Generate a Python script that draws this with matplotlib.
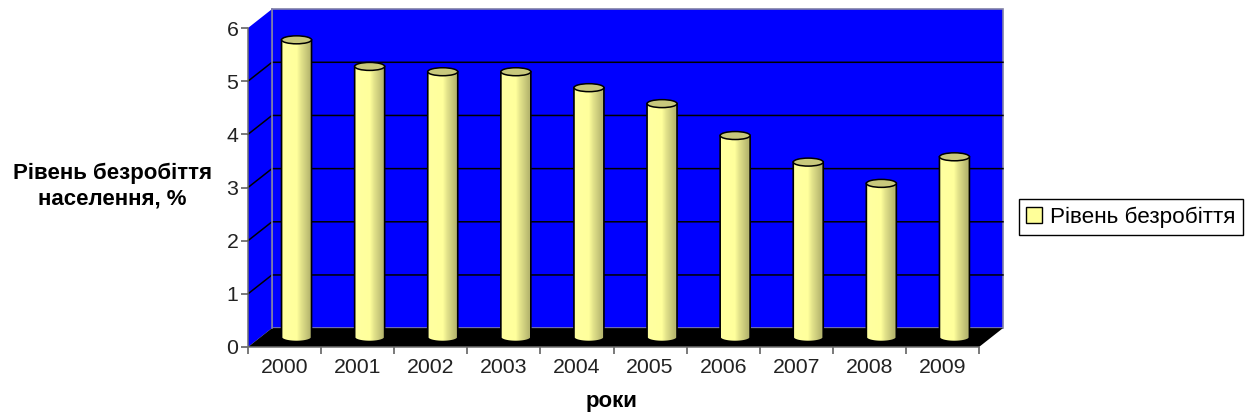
import matplotlib
matplotlib.use("Agg")
import matplotlib.pyplot as plt
import matplotlib.patches as patches
import numpy as np

years = ["2000", "2001", "2002", "2003", "2004", "2005", "2006", "2007", "2008", "2009"]
rates = [5.6, 5.1, 5.0, 5.0, 4.7, 4.4, 3.8, 3.3, 2.9, 3.4]
y_ticks = [0, 1, 2, 3, 4, 5, 6]
series_name = "Рівень безробіття"

plt.rcParams["font.family"] = ["Liberation Sans", "DejaVu Sans"]

# depth of the fake 3d box, in data units
DX = 0.328
DY = 0.355
BAR_W = 0.41
RY = 0.075

fig = plt.figure(figsize=(12.47, 4.16), dpi=100)
ax = fig.add_axes([248 / 1247, 69 / 416, 731 / 1247, 319 / 416])
ax.set_xlim(-0.5, len(years) - 0.5)
ax.set_ylim(0, 6)

x0, x1 = -0.5, len(years) - 0.5
top = y_ticks[-1]

# back wall, side wall, floor
ax.add_patch(patches.Rectangle((x0 + DX, DY), x1 - x0, top, facecolor="#0000FF", edgecolor="#8080A8",
                               linewidth=1.2, clip_on=False, zorder=1))
ax.add_patch(patches.Polygon([(x0, 0), (x0 + DX, DY), (x0 + DX, top + DY), (x0, top)], closed=True,
                             facecolor="#0000FF", edgecolor="none", clip_on=False, zorder=1))
ax.add_patch(patches.Polygon([(x0, 0), (x1, 0), (x1 + DX, DY), (x0 + DX, DY)], closed=True,
                             facecolor="black", edgecolor="none", clip_on=False, zorder=2))

# gridlines wrap from the axis to the back wall
for t in y_ticks[1:-1]:
    ax.plot([x0, x0 + DX, x1 + DX], [t, t + DY, t + DY], color="black", linewidth=1.1,
            clip_on=False, zorder=2)
ax.plot([x0 + DX, x0 + DX], [DY, top + DY], color="#8080A8", linewidth=1.2, clip_on=False, zorder=2)

# cylinders
gradient = np.array([[0.0, 0.15, 0.3, 0.5, 0.7, 0.85, 1.0]])
cmap = matplotlib.colors.LinearSegmentedColormap.from_list("cyl", ["#FFFFA0", "#FFFF9C", "#B8B870"])
for i, val in enumerate(rates):
    xc = i + DX / 2
    yb = DY / 2
    left, right = xc - BAR_W / 2, xc + BAR_W / 2
    t = np.linspace(np.pi, 2 * np.pi, 40)
    bottom_x = xc + BAR_W / 2 * np.cos(t)
    bottom_y = yb + RY * np.sin(t)
    outline = np.vstack([np.column_stack([bottom_x, bottom_y]), [(right, yb + val), (left, yb + val)]])
    body = patches.Polygon(outline, closed=True, facecolor="none", edgecolor="black", linewidth=1.2,
                           clip_on=False, zorder=4)
    ax.add_patch(body)
    im = ax.imshow(gradient, extent=(left, right, yb - RY, yb + val), cmap=cmap, aspect="auto",
                   interpolation="bilinear", zorder=3, clip_on=True)
    im.set_clip_path(body)
    ax.add_patch(patches.Ellipse((xc, yb + val), BAR_W, 2 * RY, facecolor="#C8C87C", edgecolor="black",
                                 linewidth=1.1, clip_on=False, zorder=5))

ax.set_xlim(x0, x1)
ax.set_ylim(0, 6)

ax.set_xticks(np.arange(len(years) + 1) - 0.5, minor=False)
ax.set_xticklabels([""] * (len(years) + 1))
ax.set_xticks(np.arange(len(years)), minor=True)
ax.set_xticklabels(years, minor=True, fontsize=15.3, color="#222222")
ax.tick_params(axis="x", which="minor", length=0, pad=8)
ax.tick_params(axis="x", which="major", length=5, color="#555555", width=1.1)
ax.set_yticks(y_ticks)
ax.tick_params(axis="y", length=5, color="#555555", width=1.1, labelsize=15.3, labelcolor="#222222", pad=2)

for name in ["top", "right"]:
    ax.spines[name].set_visible(False)
for name in ["left", "bottom"]:
    ax.spines[name].set_color("#707070")
    ax.spines[name].set_linewidth(1.1)
    ax.spines[name].set_zorder(6)

ax.set_xlabel("роки", fontsize=16, fontweight="bold", va="center")
ax.xaxis.set_label_coords((612 - 248) / 731, (347 - 402) / 319)
ax.set_ylabel("Рівень безробіття\nнаселення, %", fontsize=16, fontweight="bold", rotation=0,
              ha="center", va="center", linespacing=1.25)
ax.yaxis.set_label_coords((112 - 248) / 731, (347 - 186) / 319)

handle = patches.Patch(facecolor="#FFFF99", edgecolor="black", linewidth=1.0, label=series_name)
fig.legend(handles=[handle], loc="center left", bbox_to_anchor=(1019 / 1247, 1 - 217 / 416),
           borderaxespad=0, fancybox=False, framealpha=1, edgecolor="black", fontsize=16.2,
           handlelength=0.72, handleheight=0.72, handletextpad=0.35, borderpad=0.32)

fig.savefig("out.png", dpi=100)
